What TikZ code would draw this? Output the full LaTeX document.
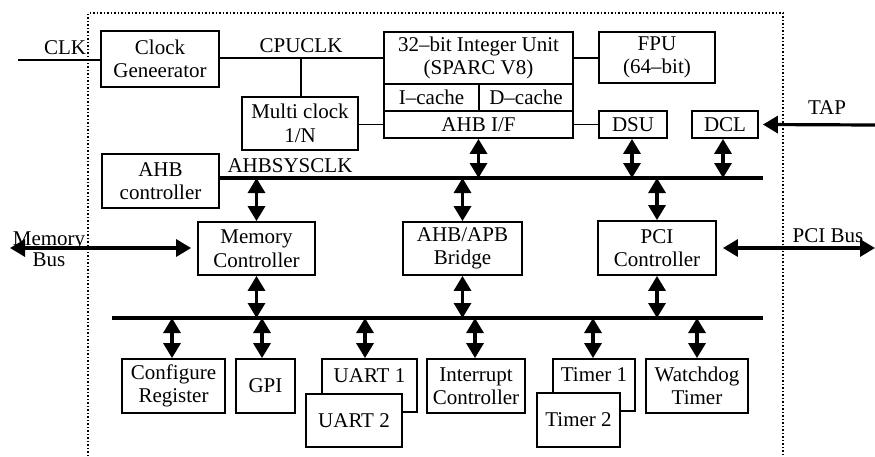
\documentclass[tikz,border=0pt]{standalone}
\usepackage{fontspec}
\setmainfont{Liberation Serif}
\usetikzlibrary{arrows.meta}
\newcommand\fsz{\fontsize{21}{23.5}\selectfont}
\begin{document}
\begin{tikzpicture}[x=1pt,y=-1pt,
 box/.style={draw, line width=1.8pt, inner sep=0pt, align=center, font=\fsz, fill=white},
 lbl/.style={inner sep=0pt, font=\fsz, align=center},
 wire/.style={line width=1.8pt},
 busline/.style={line width=3.5pt},
 darr/.style={line width=3.2pt, {Triangle[length=15pt,width=17pt]}-{Triangle[length=15pt,width=17pt]}},
 sarr/.style={line width=3.2pt, -{Triangle[length=15pt,width=17pt]}},
 frame/.style={line width=1.5pt, dotted}
]
\useasboundingbox (0,0) rectangle (875,456);
% dotted chip frame
\coordinate (f1) at (88,470);
\coordinate (f2) at (88,13);
\coordinate (f3) at (783,13);
\coordinate (f4) at (783,470);
\draw[frame] (f1) -- (f2) -- (f3) -- (f4);

% upper boxes
\node[box, minimum width=118pt, minimum height=56pt] (clkgen) at (160,59) {Clock\\Geneerator};
\node[box, minimum width=116pt, minimum height=53pt] (multi) at (300,123.5) {Multi clock\\1/N};
\node[box, minimum width=189pt, minimum height=52pt] (iu) at (478.5,58) {32–bit Integer Unit\\(SPARC V8)};
\node[box, minimum width=95pt, minimum height=27pt] (icache) at (431.5,97.5) {I–cache};
\node[box, minimum width=94pt, minimum height=27pt] (dcache) at (526,97.5) {D–cache};
\node[box, minimum width=189pt, minimum height=27pt] (ahbif) at (478.5,124.5) {AHB I/F};
\node[box, minimum width=116pt, minimum height=51pt] (fpu) at (657,57.5) {FPU\\(64–bit)};
\node[box, minimum width=68pt, minimum height=27pt] (dsu) at (633,124.5) {DSU};
\node[box, minimum width=66pt, minimum height=27pt] (dcl) at (725,124.5) {DCL};
\node[box, minimum width=117pt, minimum height=54pt] (ahbctl) at (160.5,181) {AHB\\controller};

% middle boxes
\node[box, minimum width=117pt, minimum height=53pt] (memctl) at (256.5,248.5) {Memory\\Controller};
\node[box, minimum width=119pt, minimum height=53pt] (bridge) at (462.5,248.5) {AHB/APB\\Bridge};
\node[box, minimum width=118pt, minimum height=54pt] (pci) at (657,248) {PCI\\Controller};

% lower boxes
\node[box, minimum width=103pt, minimum height=54pt] (cfg) at (173.5,386) {Configure\\Register};
\node[box, minimum width=59pt, minimum height=54pt] (gpi) at (265.5,386) {GPI};
\node[box, minimum width=95pt, minimum height=53pt] (uart1) at (369.5,385.5) {};
\node[lbl] (uart1t) at (369.5,376) {UART 1};
\node[box, minimum width=96pt, minimum height=53pt] (uart2) at (354,420.5) {UART 2};
\node[box, minimum width=98pt, minimum height=54pt] (intr) at (476,386) {Interrupt\\Controller};
\node[box, minimum width=82pt, minimum height=52pt] (timer1) at (594,385) {};
\node[lbl] (timer1t) at (594,375) {Timer 1};
\node[box, minimum width=83pt, minimum height=54pt] (timer2) at (578.5,420) {Timer 2};
\node[box, minimum width=102pt, minimum height=54pt] (wdog) at (697,386) {Watchdog\\Timer};

% labels
\node[lbl] (clkt) at (65,48) {CLK};
\node[lbl] (cpuclkt) at (301,46) {CPUCLK};
\node[lbl] (ahbsysclkt) at (290,166) {AHBSYSCLK};
\node[lbl] (tapt) at (827,108) {TAP};
\node[lbl, font=\fontsize{21}{21}\selectfont] (memt) at (49,249) {Memory\\Bus};
\node[lbl] (pcit) at (828,236) {PCI Bus};

% clock wiring
\coordinate (clkin) at (18,60);
\draw[line width=2.4pt] (clkin) -- (clkgen.west |- clkin);
\draw[wire] (clkgen.east |- iu.west) -- (iu.west);
\coordinate (cpuj) at (301,58);
\draw[wire] (cpuj) -- (multi.north -| cpuj);
\draw[wire] (multi.east |- ahbif.west) -- (ahbif.west);
\draw[wire] (iu.east) -- (fpu.west |- iu.east);
\draw[wire] (ahbif.east) -- (dsu.west);
\coordinate (tapin) at (875,125);
\draw[sarr] (tapin) -- ([xshift=4pt]dcl.east);

% AHB bus
\coordinate (ab1) at (219,178);
\coordinate (ab2) at (763,178);
\draw[busline] (ab1) -- (ab2);
\draw[darr] (ahbif.south) -- (ahbif.south |- ab1);
\draw[darr] ([xshift=-1pt]dsu.south) -- ([xshift=-1pt]dsu.south |- ab1);
\draw[darr] ([xshift=-2pt]dcl.south) -- ([xshift=-2pt]dcl.south |- ab1);
\draw[darr] (memctl.north |- ab1) -- (memctl.north);
\draw[darr] (bridge.north |- ab1) -- (bridge.north);
\draw[darr] (pci.north |- ab1) -- (pci.north);

% external buses
\coordinate (membus) at (10,248);
\draw[darr] (membus) -- ([xshift=-6pt]memctl.west |- membus);
\coordinate (pcibus) at (875,248);
\draw[darr] ([xshift=6pt]pci.east) -- (pcibus);

% APB bus
\coordinate (pb1) at (112,318);
\coordinate (pb2) at (763,318);
\draw[busline] (pb1) -- (pb2);
\draw[darr] (memctl.south) -- (memctl.south |- pb1);
\draw[darr] (bridge.south) -- (bridge.south |- pb1);
\draw[darr] (pci.south) -- (pci.south |- pb1);
\draw[darr] ([xshift=-1.5pt]cfg.north |- pb1) -- ([xshift=-1.5pt]cfg.north);
\draw[darr] ([xshift=-3.5pt]gpi.north |- pb1) -- ([xshift=-3.5pt]gpi.north);
\draw[darr] ([xshift=-4.5pt]uart1.north |- pb1) -- ([xshift=-4.5pt]uart1.north);
\draw[darr] ([xshift=-1pt]intr.north |- pb1) -- ([xshift=-1pt]intr.north);
\draw[darr] ([xshift=-1pt]timer1.north |- pb1) -- ([xshift=-1pt]timer1.north);
\draw[darr] (wdog.north |- pb1) -- (wdog.north);
\end{tikzpicture}
\end{document}
